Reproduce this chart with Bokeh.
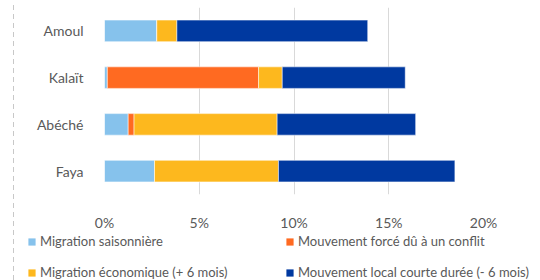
from bokeh.plotting import figure
from bokeh.models import Legend, LegendItem, PrintfTickFormatter, FixedTicker, Range1d, Div
from bokeh.layouts import row, column
from bokeh.embed import file_html
from bokeh.resources import INLINE

# Data (percent)
categories = ["Faya", "Abéché", "Kalaït", "Amoul"]
series_names = [
    "Migration saisonnière",
    "Mouvement forcé dû à un conflit",
    "Migration économique (+ 6 mois)",
    "Mouvement local courte durée (- 6 mois)",
]
saisonniere = [2.64, 1.25, 0.15, 2.76]
force_conflit = [0.0, 0.31, 7.98, 0.0]
economique = [6.54, 7.55, 1.25, 1.06]
local_courte = [9.31, 7.31, 6.49, 10.07]
x_ticks = [0, 5, 10, 15, 20]

colors = ["#86C2EC", "#FF6A21", "#FDB81E", "#0039A0"]
keys = ["saisonniere", "force", "economique", "local"]

source = dict(cat=categories, saisonniere=saisonniere, force=force_conflit,
              economique=economique, local=local_courte)

FONT = "Lato"
GRAY = "#595959"
W = 514

p = figure(width=W, height=233, y_range=categories, x_range=Range1d(0, 20),
           output_backend="svg", toolbar_location=None,
           min_border_left=86, min_border_right=49, min_border_top=7, min_border_bottom=36)
p.outline_line_color = None
p.frame_align = False

p.hbar_stack(keys, y="cat", height=0.46, color=colors, source=source,
             line_color="white", line_width=0.5)

p.xaxis.ticker = FixedTicker(ticks=x_ticks)
p.xaxis.formatter = PrintfTickFormatter(format="%d%%")
p.xaxis.axis_line_color = None
p.xaxis.major_tick_line_color = None
p.xaxis.minor_tick_line_color = None
p.xaxis.major_label_standoff = 13
p.xaxis.major_label_text_font = FONT
p.xaxis.major_label_text_font_size = "14px"
p.xaxis.major_label_text_color = GRAY

p.yaxis.axis_line_color = None
p.yaxis.major_tick_line_color = None
p.yaxis.minor_tick_line_color = None
p.yaxis.major_label_standoff = 15
p.yaxis.major_label_text_font = FONT
p.yaxis.major_label_text_font_size = "14px"
p.yaxis.major_label_text_color = GRAY

p.xgrid.grid_line_color = "#d9d9d9"
p.xgrid.grid_line_width = 1
p.ygrid.grid_line_color = None

# Legend in its own small figure (so that it is not clipped)
lg = figure(width=W, height=47, x_range=Range1d(0, 1), y_range=Range1d(0, 1),
            output_backend="svg", toolbar_location=None,
            x_axis_type=None, y_axis_type=None,
            min_border_left=0, min_border_right=0, min_border_top=0, min_border_bottom=0)
lg.outline_line_color = None
lg.frame_align = False
lg.xgrid.visible = False
lg.ygrid.visible = False
# invisible zero-size bars only used as legend swatches
dummy = [lg.hbar(y=[0.5], left=[0], right=[0], height=0, color=c, line_color=None) for c in colors]

items = [LegendItem(label=n, renderers=[r]) for n, r in zip(series_names, dummy)]
legend = Legend(items=items, orientation="horizontal", ncols=2,
                location=(9, 0), glyph_width=9, glyph_height=9,
                label_standoff=4, label_height=14, spacing=15, label_width=230,
                padding=0, margin=0, border_line_color=None, background_fill_alpha=0,
                label_text_font=FONT, label_text_font_size="13px", label_text_color=GRAY)
lg.add_layout(legend, "center")

line_div = Div(width=8, height=280,
               text='<div style="width:1px;height:280px;margin-left:8px;'
                    'background:repeating-linear-gradient(to bottom,#c8c8c8 0 5px,transparent 5px 9px)"></div>')

layout = row(line_div, column(p, lg))
open("out.html", "w").write(file_html(layout, INLINE))
